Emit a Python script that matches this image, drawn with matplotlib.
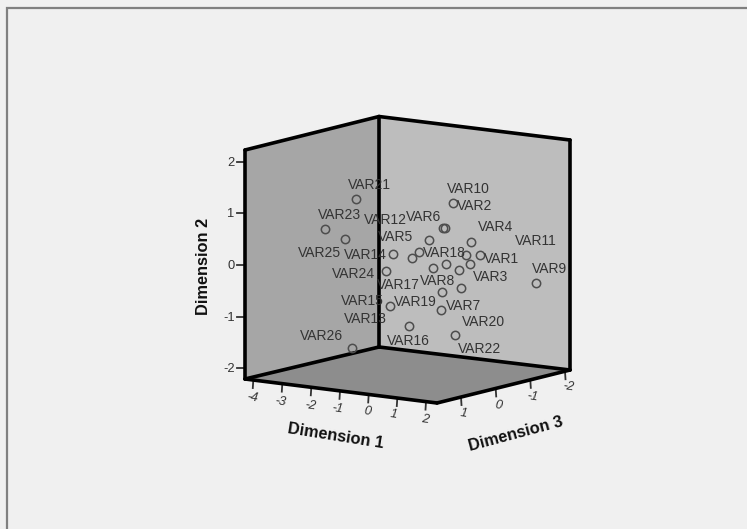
import matplotlib
matplotlib.use("Agg")
import matplotlib.pyplot as plt
from matplotlib.patches import Polygon

plt.rcParams['font.family'] = ['Liberation Sans', 'DejaVu Sans']

# Variable labels with label anchors (screen position)
var_labels = ["VAR21", "VAR23", "VAR12", "VAR6", "VAR10", "VAR2", "VAR4", "VAR11", "VAR5",
              "VAR18", "VAR1", "VAR9", "VAR25", "VAR14", "VAR24", "VAR3", "VAR17", "VAR8",
              "VAR15", "VAR19", "VAR7", "VAR13", "VAR20", "VAR16", "VAR22", "VAR26"]
label_x = [369, 339, 385, 424, 468, 475, 496, 536, 396, 444, 501, 550, 320, 365, 353, 491,
           398, 438, 362, 415, 464, 365, 484, 408, 480, 322]
label_y = [185, 215, 220, 217, 189, 206, 227, 241, 237, 253, 259, 269, 253, 255, 274, 277,
           285, 281, 301, 302, 306, 319, 322, 341, 349, 336]

# Projected point positions of the 26 variables
point_x = [356, 325, 345.3, 385.7, 452.7, 445, 443, 428.7, 470.7, 392.7, 412.3, 419, 466,
           480, 470, 446.3, 433, 459.3, 535.7, 461, 442.3, 390, 440.7, 408.7, 455, 352.3]
point_y = [198.7, 229, 239.3, 271.3, 202.7, 228, 228, 240, 241.7, 254, 257.7, 251.7, 255,
           255, 263.7, 263.7, 268.3, 270, 282.7, 287.7, 292, 306, 310.3, 326, 335, 348.3]

dim2_ticks = ["2", "1", "0", "-1", "-2"]
dim1_ticks = ["-4", "-3", "-2", "-1", "0", "1", "2"]
dim3_ticks = ["1", "0", "-1", "-2"]

BG = "#f0f0f0"
TXT = "#333333"
fig = plt.figure(figsize=(7.47, 5.29), dpi=100, facecolor=BG)
ax = fig.add_axes([0, 0, 1, 1])
ax.set_xlim(0, 747)
ax.set_ylim(529, 0)
ax.axis("off")

# outer frame
ax.plot([6.5, 6.5, 747], [529, 7.5, 7.5], color="#808080", lw=1.6, solid_joinstyle="miter", zorder=1)

# box corners
L_top, L_bot = (245, 150), (245, 379)
B_top, B_bot = (379, 116.5), (379, 347)
R_top, R_bot = (570, 140), (570, 370)
F_bot = (437, 403)

ax.add_patch(Polygon([L_top, B_top, B_bot, L_bot], fc="#a6a6a6", ec="none", zorder=2))
ax.add_patch(Polygon([B_top, R_top, R_bot, B_bot], fc="#bdbdbd", ec="none", zorder=2))
ax.add_patch(Polygon([L_bot, B_bot, R_bot, F_bot], fc="#8d8d8d", ec="none", zorder=2))

edge = dict(color="black", lw=2.6, solid_capstyle="round", zorder=3)
for a, b in [(L_top, B_top), (B_top, R_top), (L_top, L_bot), (B_top, B_bot), (R_top, R_bot),
             (L_bot, B_bot), (B_bot, R_bot), (L_bot, F_bot), (F_bot, R_bot)]:
    ax.plot([a[0], b[0]], [a[1], b[1]], **edge)

tick_kw = dict(color="#333333", lw=1.3, zorder=2.5)
tick_fs = 9.3

# Dimension 2 ticks
for lab, y in zip(dim2_ticks, [161.7, 213.3, 265, 316.7, 368.3]):
    ax.plot([237, 245], [y, y], **tick_kw)
    ax.text(234.5, y + 1, lab, ha="right", va="center", fontsize=tick_fs, color=TXT, zorder=5)

# Dimension 1 ticks
for lab, x, lx, ly in zip(dim1_ticks,
                          [253.3, 282.3, 311.3, 340, 368.7, 397.3, 426],
                          [252, 280, 310, 337, 367, 394, 425],
                          [398, 402, 405.7, 409, 411.7, 415, 419.3]):
    y0 = 379 + (x - 245) * (403 - 379) / (437 - 245)
    ax.plot([x, x - 0.5], [y0, y0 + 8], **tick_kw)
    ax.text(lx, ly, lab, ha="center", va="center", fontsize=tick_fs, style="italic",
            rotation=-8, color=TXT, zorder=5)

# Dimension 3 ticks
for lab, x, lx, ly in zip(dim3_ticks,
                          [461, 495.7, 530.3, 565],
                          [463.3, 498.3, 532.3, 568.3],
                          [414, 405.7, 396.7, 387.3]):
    y0 = 403 + (x - 437) * (370 - 403) / (570 - 437)
    ax.plot([x, x + 0.5], [y0, y0 + 8], **tick_kw)
    ax.text(lx, ly, lab, ha="center", va="center", fontsize=tick_fs, style="italic",
            rotation=-8, color=TXT, zorder=5)

# axis titles
title_kw = dict(fontsize=11.8, fontweight="bold", color="#111111", ha="center", va="center", zorder=5)
ax.text(204, 266, "Dimension 2", rotation=90, **title_kw)
ax.text(335.5, 436, "Dimension 1", rotation=-9, rotation_mode="anchor", **title_kw)
ax.text(516, 434, "Dimension 3", rotation=15, rotation_mode="anchor", **title_kw)

# points and labels
ax.plot(point_x, point_y, ls="none", marker="o", ms=6.0, mfc="none", mec="#4d4d4d", mew=1.1, zorder=6,
        clip_on=False)
for t, x, y in zip(var_labels, label_x, label_y):
    ax.text(x, y, t, ha="center", va="center", fontsize=10, color=TXT, zorder=7)

fig.savefig("out.png", dpi=100, facecolor=BG)
